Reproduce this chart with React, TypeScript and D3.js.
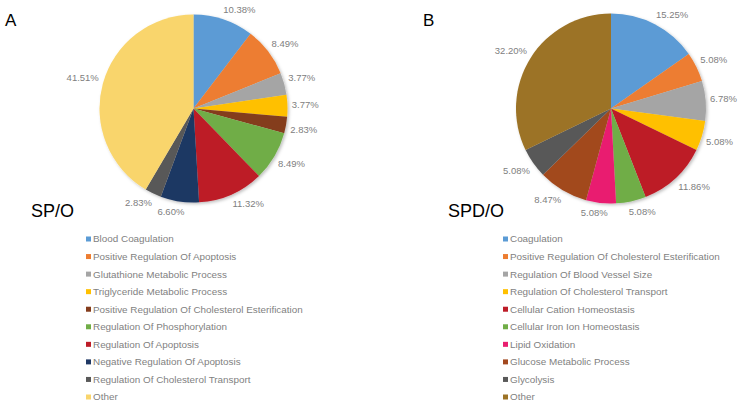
import React from "react";
import * as d3 from "d3";

const catsA = [
  "Blood Coagulation",
  "Positive Regulation Of Apoptosis",
  "Glutathione Metabolic Process",
  "Triglyceride Metabolic Process",
  "Positive Regulation Of Cholesterol Esterification",
  "Regulation Of Phosphorylation",
  "Regulation Of Apoptosis",
  "Negative Regulation Of Apoptosis",
  "Regulation Of Cholesterol Transport",
  "Other",
];
const valuesA = [10.38, 8.49, 3.77, 3.77, 2.83, 8.49, 11.32, 6.6, 2.83, 41.51];
const colorsA = ["#5b9bd5", "#ed7d31", "#a5a5a5", "#ffc000", "#843c1c", "#70ad47", "#bd1c28", "#1f3864", "#595959", "#f9d56c"];

const catsB = [
  "Coagulation",
  "Positive Regulation Of Cholesterol Esterification",
  "Regulation Of Blood Vessel Size",
  "Regulation Of Cholesterol Transport",
  "Cellular Cation Homeostasis",
  "Cellular Iron Ion Homeostasis",
  "Lipid Oxidation",
  "Glucose Metabolic Process",
  "Glycolysis",
  "Other",
];
const valuesB = [15.25, 5.08, 6.78, 5.08, 11.86, 5.08, 5.08, 8.47, 5.08, 32.2];
const colorsB = ["#5b9bd5", "#ed7d31", "#a5a5a5", "#ffc000", "#bd1c28", "#70ad47", "#e91e6f", "#a2481f", "#595959", "#9c7326"];

type PieProps = {
  cx: number; cy: number; r: number;
  values: number[]; colors: string[]; cats: string[];
  letter: string; letterX: number; title: string; titleX: number;
  legendX: number;
};

function Pie(p: PieProps) {
  const arcs = d3.pie<number>().sort(null).value((d) => d)(p.values);
  const arcGen = d3.arc<d3.PieArcDatum<number>>().innerRadius(0).outerRadius(p.r);
  const legendY = d3.scalePoint<number>().domain(d3.range(p.cats.length)).range([239, 397]);
  return (
    <g>
      <text x={p.letterX} y={26} fontSize={17} fontFamily="Liberation Sans, Arial, sans-serif" fill="#000">{p.letter}</text>
      <g transform={`translate(${p.cx},${p.cy})`} filter="url(#shadow)">
        {arcs.map((a, i) => (
          <path key={i} d={arcGen(a) || ""} fill={p.colors[i]} />
        ))}
      </g>
      <g transform={`translate(${p.cx},${p.cy})`}>
        {arcs.map((a, i) => {
          const ang = (a.startAngle + a.endAngle) / 2;
          const s = Math.sin(ang), c = Math.cos(ang);
          const label = p.values[i].toFixed(2) + "%";
          const w = label.length * 5.1;
          const h = 10;
          const R = p.r + 5;
          const x = R * s + (w / 2) * Math.tanh(s * 5);
          const y = -R * c - (h / 2) * Math.tanh(c * 5);
          return (
            <text key={i} x={x} y={y} dy="0.35em" textAnchor="middle" fontSize={9.5}
              fontFamily="Liberation Sans, Arial, sans-serif" fill="#808080">{label}</text>
          );
        })}
      </g>
      <text x={p.titleX} y={217} fontSize={18} fontFamily="Liberation Sans, Arial, sans-serif" fill="#000">{p.title}</text>
      <g>
        {p.cats.map((cat, i) => (
          <g key={i} transform={`translate(${p.legendX},${legendY(i)})`}>
            <rect x={0} y={-2.5} width={5} height={5} fill={p.colors[i]} />
            <text x={7} y={0} dy="0.35em" fontSize={9.9} fontFamily="Liberation Sans, Arial, sans-serif" fill="#7f7f7f">{cat}</text>
          </g>
        ))}
      </g>
    </g>
  );
}

export default function App() {
  return (
    <svg width={744} height={413} style={{ position: "absolute", left: 0, top: 0, background: "#fff" }}>
      <defs>
        <filter id="shadow" x="-20%" y="-20%" width="140%" height="140%">
          <feDropShadow dx="1.5" dy="1.5" stdDeviation="1.5" floodColor="#000" floodOpacity="0.25" />
        </filter>
      </defs>
      <rect width={744} height={413} fill="#fff" />
      <Pie cx={193.5} cy={108.5} r={94} values={valuesA} colors={colorsA} cats={catsA}
        letter="A" letterX={5} title="SP/O" titleX={31} legendX={86} />
      <Pie cx={611} cy={108.5} r={95} values={valuesB} colors={colorsB} cats={catsB}
        letter="B" letterX={423} title="SPD/O" titleX={448} legendX={503} />
    </svg>
  );
}
